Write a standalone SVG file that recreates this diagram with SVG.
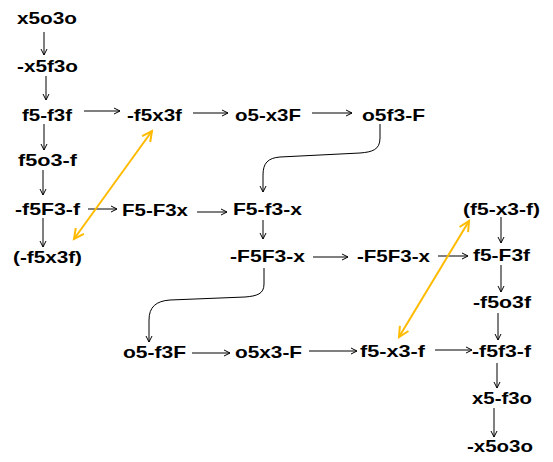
<svg xmlns="http://www.w3.org/2000/svg" width="553" height="462" viewBox="0 0 553 462">
<defs>
<style>
text{font-family:"Liberation Sans",Arial,sans-serif;font-weight:bold;font-size:17px;fill:#000}
.c{fill:none;stroke:#000;stroke-width:1;marker-end:url(#a)}
.o{fill:none;stroke:#FFBB00;stroke-width:2;marker-start:url(#b);marker-end:url(#b)}
</style>
<marker id="a" markerUnits="userSpaceOnUse" markerWidth="10" markerHeight="10" refX="7" refY="4" orient="auto">
<path d="M1,1 L7,4 L1,7" fill="none" stroke="#000" stroke-width="1"/>
</marker>
<marker id="b" markerUnits="userSpaceOnUse" markerWidth="14" markerHeight="14" refX="11" refY="6" orient="auto-start-reverse">
<path d="M1,1 L11,6 L1,11" fill="none" stroke="#FFBB00" stroke-width="2"/>
</marker>
</defs>
<g id="connectors">
<path class="c" d="M44,32 V55"/>
<path class="c" d="M46,76 V100"/>
<path class="c" d="M44,124 V150"/>
<path class="c" d="M43,170 V195"/>
<path class="c" d="M43,218 V247"/>
<path class="c" d="M84,111 H120"/>
<path class="c" d="M193,113 H228"/>
<path class="c" d="M312,113 H352"/>
<path class="c" d="M88,209 H117"/>
<path class="c" d="M197,212 H227"/>
<path class="c" d="M263,220 V239"/>
<path class="c" d="M313,257 H348"/>
<path class="c" d="M438,256 H468"/>
<path class="c" d="M501,217 V243"/>
<path class="c" d="M501,265 V292"/>
<path class="c" d="M498,313 V340"/>
<path class="c" d="M497,363 V388"/>
<path class="c" d="M494,408 V437"/>
<path class="c" d="M192,353 H230"/>
<path class="c" d="M309,351 H357"/>
<path class="c" d="M435,350 H472"/>
<path class="c" d="M380,124 V138 C380,150 372,152 360,153 L280,157 C268,158 263,163 263,175 V192"/>
<path class="c" d="M264,268 V284 C264,294 257,296 245,297 L170,300 C156,301 149,307 149,320 V342"/>
<path class="o" d="M152,131 L74,239"/>
<path class="o" d="M469,221 L399,337"/>
</g>
<g id="n1"><text x="17" y="24" textLength="60" lengthAdjust="spacingAndGlyphs">x5o3o</text></g>
<g id="n2"><text x="17" y="72" textLength="61" lengthAdjust="spacingAndGlyphs">-x5f3o</text></g>
<g id="n3"><text x="22" y="121" textLength="50" lengthAdjust="spacingAndGlyphs">f5-f3f</text></g>
<g id="n4"><text x="18" y="166" textLength="59" lengthAdjust="spacingAndGlyphs">f5o3-f</text></g>
<g id="n5"><text x="15" y="215" textLength="65" lengthAdjust="spacingAndGlyphs">-f5F3-f</text></g>
<g id="n6"><text x="13" y="263" textLength="69" lengthAdjust="spacingAndGlyphs">(-f5x3f)</text></g>
<g id="n7"><text x="127" y="121" textLength="55" lengthAdjust="spacingAndGlyphs">-f5x3f</text></g>
<g id="n8"><text x="235" y="121" textLength="66" lengthAdjust="spacingAndGlyphs">o5-x3F</text></g>
<g id="n9"><text x="362" y="121" textLength="63" lengthAdjust="spacingAndGlyphs">o5f3-F</text></g>
<g id="n10"><text x="122" y="216" textLength="66" lengthAdjust="spacingAndGlyphs">F5-F3x</text></g>
<g id="n11"><text x="233" y="215" textLength="69" lengthAdjust="spacingAndGlyphs">F5-f3-x</text></g>
<g id="n12"><text x="230" y="262" textLength="75" lengthAdjust="spacingAndGlyphs">-F5F3-x</text></g>
<g id="n13"><text x="357" y="262" textLength="73" lengthAdjust="spacingAndGlyphs">-F5F3-x</text></g>
<g id="n14"><text x="463" y="215" textLength="77" lengthAdjust="spacingAndGlyphs">(f5-x3-f)</text></g>
<g id="n15"><text x="473" y="261" textLength="57" lengthAdjust="spacingAndGlyphs">f5-F3f</text></g>
<g id="n16"><text x="473" y="308" textLength="58" lengthAdjust="spacingAndGlyphs">-f5o3f</text></g>
<g id="n17"><text x="472" y="357" textLength="59" lengthAdjust="spacingAndGlyphs">-f5f3-f</text></g>
<g id="n18"><text x="472" y="404" textLength="60" lengthAdjust="spacingAndGlyphs">x5-f3o</text></g>
<g id="n19"><text x="467" y="452" textLength="66" lengthAdjust="spacingAndGlyphs">-x5o3o</text></g>
<g id="n20"><text x="123" y="358" textLength="63" lengthAdjust="spacingAndGlyphs">o5-f3F</text></g>
<g id="n21"><text x="235" y="358" textLength="67" lengthAdjust="spacingAndGlyphs">o5x3-F</text></g>
<g id="n22"><text x="360" y="357" textLength="65" lengthAdjust="spacingAndGlyphs">f5-x3-f</text></g>
</svg>
